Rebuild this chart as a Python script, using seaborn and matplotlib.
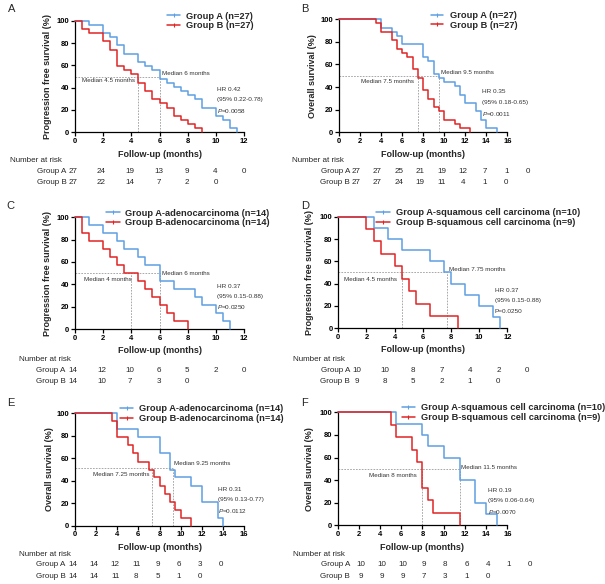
import numpy as np
import pandas as pd
import matplotlib
matplotlib.use("Agg")
import matplotlib.pyplot as plt
import seaborn as sns
from matplotlib.lines import Line2D

# ---------------- data ----------------
# Panel A: progression free survival, all patients
A_tA = [0, 1, 2, 2.5, 3, 3.5, 4.5, 5, 5.5, 6, 6.5, 7, 7.5, 8, 8.5, 9, 10, 10.5, 11, 11.5]
A_sA = [100, 96.3, 88.9, 85.2, 77.8, 70.4, 63.0, 59.3, 55.6, 48.1, 44.4, 40.7, 37.0, 33.3, 29.6, 22.2, 14.8, 11.1, 3.7, 0]
A_tB = [0, 0.5, 1, 2, 2.5, 3, 3.5, 4, 4.5, 5, 5.5, 6, 6.5, 7, 7.5, 8, 8.5, 9]
A_sB = [100, 92.6, 88.9, 81.5, 74.1, 59.3, 55.6, 51.9, 44.4, 37.0, 29.6, 25.9, 22.2, 14.8, 11.1, 7.4, 3.7, 0]
A_riskA = [27, 24, 19, 13, 9, 4, 0]
A_riskB = [27, 22, 14, 7, 2, 0]
A_medians = [6, 4.5]
A_stats = ["HR 0.42", "(95% 0.22-0.78)", "$\\it{P}$=0.0058"]
A_labels = ["Group A (n=27)", "Group B (n=27)"]

# Panel B: overall survival, all patients
B_tA = [0, 4, 5, 5.5, 6, 8, 8.5, 9, 9.5, 10, 11, 11.5, 12, 13, 13.5, 14, 15]
B_sA = [100, 92.6, 88.9, 85.2, 77.8, 66.7, 63.0, 51.9, 48.1, 44.4, 40.7, 33.3, 25.9, 18.5, 11.1, 3.7, 0]
B_tB = [0, 3.5, 4, 5, 5.5, 6, 6.5, 7, 7.5, 8, 8.5, 9, 9.5, 10, 11, 11.5, 12.5]
B_sB = [100, 96.3, 88.9, 81.5, 74.1, 70.4, 66.7, 55.6, 48.1, 37.0, 29.6, 22.2, 18.5, 11.1, 7.4, 3.7, 0]
B_riskA = [27, 27, 25, 21, 19, 12, 7, 1, 0]
B_riskB = [27, 27, 24, 19, 11, 4, 1, 0]
B_medians = [9.5, 7.5]
B_stats = ["HR 0.35", "(95% 0.18-0.65)", "$\\it{P}$=0.0011"]
B_labels = ["Group A (n=27)", "Group B (n=27)"]

# Panel C: PFS, adenocarcinoma
C_tA = [0, 1, 2, 3, 3.5, 4.5, 5, 6, 7, 8.5, 9, 10, 10.5, 11]
C_sA = [100, 92.9, 85.7, 78.6, 71.4, 64.3, 57.1, 42.9, 35.7, 28.6, 21.4, 14.3, 7.1, 0]
C_tB = [0, 0.5, 1, 2, 2.5, 3, 3.5, 4.5, 5, 5.5, 6, 6.5, 7, 8]
C_sB = [100, 85.7, 78.6, 71.4, 64.3, 57.1, 50.0, 42.9, 35.7, 28.6, 21.4, 14.3, 7.1, 0]
C_riskA = [14, 12, 10, 6, 5, 2, 0]
C_riskB = [14, 10, 7, 3, 0]
C_medians = [6, 4]
C_stats = ["HR 0.37", "(95% 0.15-0.88)", "$\\it{P}$=0.0250"]
C_labels = ["Group A-adenocarcinoma (n=14)", "Group B-adenocarcinoma (n=14)"]

# Panel D: PFS, squamous cell carcinoma
D_tA = [0, 2.5, 3.5, 4.5, 6.5, 7.5, 8, 9, 10, 11, 11.5]
D_sA = [100, 90, 80, 70, 60, 50, 40, 30, 20, 10, 0]
D_tB = [0, 2, 2.5, 3, 4, 4.5, 5, 5.5, 6.5, 8.5]
D_sB = [100, 88.9, 77.8, 66.7, 55.6, 44.4, 33.3, 22.2, 11.1, 0]
D_riskA = [10, 10, 8, 7, 4, 2, 0]
D_riskB = [9, 8, 5, 2, 1, 0]
D_medians = [7.75, 4.5]
D_stats = ["HR 0.37", "(95% 0.15-0.88)", "P=0.0250"]
D_labels = ["Group A-squamous cell carcinoma (n=10)", "Group B-squamous cell carcinoma (n=9)"]

# Panel E: OS, adenocarcinoma
E_tA = [0, 4, 6, 8, 9, 9.5, 11, 12, 13.5, 14]
E_sA = [100, 85.7, 78.6, 64.3, 50.0, 42.9, 35.7, 21.4, 7.1, 0]
E_tB = [0, 3.5, 4, 5, 5.5, 6, 7, 7.5, 8, 8.5, 9, 9.5, 10, 11]
E_sB = [100, 92.9, 78.6, 71.4, 64.3, 57.1, 50.0, 42.9, 35.7, 28.6, 21.4, 14.3, 7.1, 0]
E_riskA = [14, 14, 12, 11, 9, 6, 3, 0]
E_riskB = [14, 14, 11, 8, 5, 1, 0]
E_medians = [9.25, 7.25]
E_stats = ["HR 0.31", "(95% 0.13-0.77)", "$\\it{P}$=0.0112"]
E_labels = ["Group A-adenocarcinoma (n=14)", "Group B-adenocarcinoma (n=14)"]

# Panel F: OS, squamous cell carcinoma
F_tA = [0, 5.5, 8, 8.5, 10, 11.5, 13, 14, 15]
F_sA = [100, 90, 80, 70, 60, 40, 20, 10, 0]
F_tB = [0, 5, 5.5, 7, 7.5, 8, 8.5, 9, 11.5]
F_sB = [100, 88.9, 77.8, 66.7, 55.6, 33.3, 22.2, 11.1, 0]
F_riskA = [10, 10, 10, 9, 8, 6, 4, 1, 0]
F_riskB = [9, 9, 9, 7, 3, 1, 0]
F_medians = [11.5, 8]
F_stats = ["HR 0.19", "(95% 0.06-0.64)", "$\\it{P}$=0.0070"]
F_labels = ["Group A-squamous cell carcinoma (n=10)", "Group B-squamous cell carcinoma (n=9)"]

PFS_LABEL = "Progression free survival (%)"
OS_LABEL = "Overall survival (%)"
X_LABEL = "Follow-up (months)"

# ---------------- style ----------------
sns.set_theme(style="ticks")
plt.rcParams["font.family"] = ["Liberation Sans", "DejaVu Sans"]
plt.rcParams["mathtext.fontset"] = "custom"
plt.rcParams["mathtext.it"] = "Liberation Sans:italic"
plt.rcParams["mathtext.rm"] = "Liberation Sans"
plt.rcParams["mathtext.default"] = "regular"

BLUE = "#5E9FE3"
RED = "#E02424"
W, H = 605, 584
fig = plt.figure(figsize=(W / 100, H / 100), dpi=100)


def fx(px):
    return px / W


def fy(py):
    return 1 - py / H


panels = [
    dict(letter="A", tA=A_tA, sA=A_sA, tB=A_tB, sB=A_sB, rA=A_riskA, rB=A_riskB, med=A_medians,
         stats=A_stats, labels=A_labels, ylab=PFS_LABEL, xmax=12,
         box=(75, 244, 20.7, 132.3), ylx=47.7, xly=154.3, let=(11.5, 9),
         leg=(167, 17.3, 13.3, 6.0), medtxt=[(6.2, 52.8), (0.48, 46)], medy=50,
         stat_xy=(10.1, 38.5, 9.5), risk=(10, 160, 66.7, 171.7, 182.3, 73, 28.5)),
    dict(letter="B", tA=B_tA, sA=B_sA, tB=B_tB, sB=B_sB, rA=B_riskA, rB=B_riskB, med=B_medians,
         stats=B_stats, labels=B_labels, ylab=OS_LABEL, xmax=16,
         box=(339, 507.3, 19.3, 132.3), ylx=312.7, xly=154.3, let=(305, 9),
         leg=(431, 16.7, 12.3, 6.7), medtxt=[(9.67, 53.1), (2.06, 44.8)], medy=50,
         stat_xy=(13.6, 36.5, 10.0), risk=(292, 160.7, 350, 171.7, 182.7, 355.7, 21.5)),
    dict(letter="C", tA=C_tA, sA=C_sA, tB=C_tB, sB=C_sB, rA=C_riskA, rB=C_riskB, med=C_medians,
         stats=C_stats, labels=C_labels, ylab=PFS_LABEL, xmax=12,
         box=(75, 244, 217.3, 329), ylx=47.7, xly=350.7, let=(10.5, 206),
         leg=(106, 214.3, 14, 5.0), medtxt=[(6.2, 49.5), (0.64, 43.9)], medy=50,
         stat_xy=(10.1, 37.9, 9.0), risk=(19, 359.3, 65.7, 370, 381.7, 73, 28.5)),
    dict(letter="D", tA=D_tA, sA=D_sA, tB=D_tB, sB=D_sB, rA=D_riskA, rB=D_riskB, med=D_medians,
         stats=D_stats, labels=D_labels, ylab=PFS_LABEL, xmax=12,
         box=(338.3, 507.3, 216.7, 328.3), ylx=310, xly=350, let=(305, 206),
         leg=(376, 214, 14, 5.7), medtxt=[(7.86, 52.8), (0.43, 43.9)], medy=50,
         stat_xy=(11.1, 34.3, 9.8), risk=(293, 359.3, 350, 370.3, 381.7, 356.7, 28.33)),
    dict(letter="E", tA=E_tA, sA=E_sA, tB=E_tB, sB=E_sB, rA=E_riskA, rB=E_riskB, med=E_medians,
         stats=E_stats, labels=E_labels, ylab=OS_LABEL, xmax=16,
         box=(75, 244, 413.3, 525.7), ylx=49.3, xly=547.7, let=(10.5, 403),
         leg=(120, 410, 13.3, 5.7), medtxt=[(9.4, 54.9), (1.67, 45.7)], medy=51,
         stat_xy=(13.55, 32.4, 9.5), risk=(19, 554.3, 65.7, 565, 576.7, 72.7, 21.2)),
    dict(letter="F", tA=F_tA, sA=F_sA, tB=F_tB, sB=F_sB, rA=F_riskA, rB=F_riskB, med=F_medians,
         stats=F_stats, labels=F_labels, ylab=OS_LABEL, xmax=16,
         box=(337.7, 507.3, 412.3, 525.3), ylx=310, xly=547.7, let=(305, 403),
         leg=(401.7, 409, 13.3, 5.7), medtxt=[(11.6, 51), (2.98, 44.5)], medy=50,
         stat_xy=(14.2, 31.2, 9.6), risk=(293, 554.3, 350, 565, 576, 360.7, 21.16)),
]

LEG_FS = 6.7
TICK_FS = 5.5
LAB_FS = 6.5
RISK_FS = 5.8
ANN_FS = 4.5
STAT_FS = 4.6

for p in panels:
    l, r, t, b = p["box"]
    ax = fig.add_axes([fx(l), fy(b), (r - l) / W, (b - t) / H])
    df = pd.concat([
        pd.DataFrame({"time": p["tA"], "surv": p["sA"], "group": "Group A"}),
        pd.DataFrame({"time": p["tB"], "surv": p["sB"], "group": "Group B"}),
    ], ignore_index=True)
    sns.lineplot(data=df, x="time", y="surv", hue="group", hue_order=["Group A", "Group B"],
                 palette=[BLUE, RED], estimator=None, sort=False, drawstyle="steps-post",
                 linewidth=1.1, legend=False, ax=ax, clip_on=False, zorder=3)
    xmax = p["xmax"]
    ax.set_xlim(0, xmax)
    ax.set_ylim(0, 100)
    xt = np.arange(0, xmax + 1, 2)
    yt = np.arange(0, 101, 20)
    ax.set_xticks(xt)
    ax.set_yticks(yt)
    ax.set_xticklabels([str(v) for v in xt], fontweight="bold", fontsize=TICK_FS)
    ax.set_yticklabels([str(v) for v in yt], fontweight="bold", fontsize=TICK_FS)
    ax.tick_params(length=3, width=0.9, pad=1, colors="black")
    sns.despine(ax=ax)
    for s in ("left", "bottom"):
        ax.spines[s].set_linewidth(0.9)
        ax.spines[s].set_color("black")
    ax.set_xlabel("")
    ax.set_ylabel("")
    ax.grid(False)

    # median reference lines
    mb, mr = p["med"]
    my = p["medy"]
    dash = dict(color="#9a9a9a", lw=0.6, ls=(0, (2, 1.5)), zorder=2)
    ax.plot([0, max(mb, mr)], [my, my], **dash)
    ax.plot([mb, mb], [0, my], **dash)
    ax.plot([mr, mr], [0, my], **dash)
    (bx, by), (rx, ry) = p["medtxt"]
    ax.text(bx, by, f"Median {mb:g} months", fontsize=ANN_FS, ha="left", va="center", color="#333333")
    ax.text(rx, ry, f"Median {mr:g} months", fontsize=ANN_FS, ha="left", va="center", color="#333333")

    # HR / CI / P
    sx, sy, dy = p["stat_xy"]
    for i, s in enumerate(p["stats"]):
        ax.text(sx, sy - i * dy, s, fontsize=STAT_FS, ha="left", va="center", color="#333333")

    # legend
    lx, ly, hl, hp = p["leg"]
    handles = [Line2D([], [], color=BLUE, lw=1.1, marker="|", ms=2.5, mew=0.8),
               Line2D([], [], color=RED, lw=1.1, marker="|", ms=2.5, mew=0.8)]
    fpx = LEG_FS * 100 / 72
    ax.legend(handles, p["labels"], loc="upper left", bbox_to_anchor=(fx(lx), fy(ly - 5.6)),
              bbox_transform=fig.transFigure, frameon=False, borderpad=0, borderaxespad=0,
              handlelength=hl / fpx, handletextpad=hp / fpx, labelspacing=0.05,
              prop={"weight": "bold", "size": LEG_FS})

    # axis labels
    fig.text(fx(p["ylx"]), fy((t + b) / 2), p["ylab"], rotation=90, ha="center", va="center",
             fontsize=LAB_FS, fontweight="bold")
    fig.text(fx((l + r) / 2), fy(p["xly"]), X_LABEL, ha="center", va="center",
             fontsize=LAB_FS, fontweight="bold")

    # panel letter
    fig.text(fx(p["let"][0]), fy(p["let"][1]), p["letter"], ha="center", va="center", fontsize=8)

    # risk table
    nx, ny, gx, gay, gby, x0, dx = p["risk"]
    fig.text(fx(nx), fy(ny), "Number at risk", ha="left", va="center", fontsize=RISK_FS)
    fig.text(fx(gx), fy(gay), "Group A", ha="right", va="center", fontsize=RISK_FS)
    fig.text(fx(gx), fy(gby), "Group B", ha="right", va="center", fontsize=RISK_FS)
    for i, v in enumerate(p["rA"]):
        fig.text(fx(x0 + i * dx), fy(gay), str(v), ha="center", va="center", fontsize=RISK_FS)
    for i, v in enumerate(p["rB"]):
        fig.text(fx(x0 + i * dx), fy(gby), str(v), ha="center", va="center", fontsize=RISK_FS)

fig.savefig("out.png", dpi=100, facecolor="white")
